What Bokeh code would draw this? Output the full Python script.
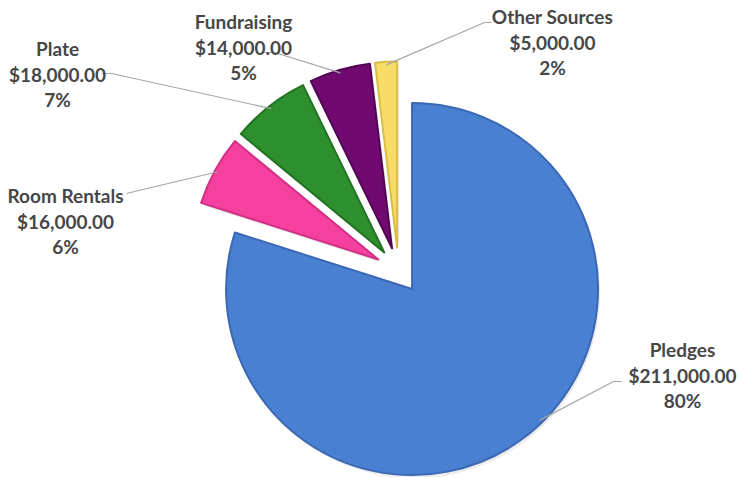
import math
from bokeh.plotting import figure
from bokeh.models import Range1d
from bokeh.core.properties import value
from bokeh.embed import file_html
from bokeh.resources import INLINE

# ---- data ----
categories = ["Pledges", "Room Rentals", "Plate", "Fundraising", "Other Sources"]
amounts = [211000, 16000, 18000, 14000, 5000]

# ---- styles / layout ----
fill_colors = ["#4a80d2", "#f5409f", "#2d8f2d", "#700a70", "#f7dd68"]
edge_colors = ["#3a68b4", "#d22f85", "#217421", "#520552", "#d8bd48"]
# label centres in reference-pixel coords (x, y of first line)
label_pos = [(682, 349), (65, 195), (57, 48), (243, 21), (552, 16)]
# leader-line stub on the label side (start, knee) in reference-pixel coords
leader_stub = [((621, 381), (613, 381)), ((126, 193), (138, 190)),
               ((101, 73), (111, 73)), ((264, 52), (274, 52)),
               ((491, 22), (484, 22))]
CX, CY = 398, 270      # pie centre (reference pixels, y down)
R = 186                # radius
EXPLODE = 23           # explosion offset
W, H = 739, 477
LINE_GAP = 25.5
TEXT_COLOR = "#474747"

def fy(ys):
    """reference pixel y (down) -> data y (up)"""
    return 477 - ys

p = figure(width=W, height=H, x_range=Range1d(0, W), y_range=Range1d(477 - H, 477),
           output_backend="svg", toolbar_location=None, min_border=0)
p.axis.visible = False
p.grid.visible = False
p.outline_line_color = None
p.background_fill_color = "white"

total = float(sum(amounts))
cum = 0.0
for i, (cat, amt) in enumerate(zip(categories, amounts)):
    frac = amt / total
    a0 = cum * 2 * math.pi            # clockwise from 12 o'clock
    a1 = (cum + frac) * 2 * math.pi
    cum += frac
    mid = (a0 + a1) / 2
    vx = CX + EXPLODE * math.sin(mid)
    vy = fy(CY) + EXPLODE * math.cos(mid)
    # soft shadow
    p.wedge(x=[vx + 2], y=[vy - 3], radius=R, start_angle=math.pi / 2 - a0,
            end_angle=math.pi / 2 - a1, direction="clock",
            fill_color="#000000", fill_alpha=0.08, line_color=None)
    p.wedge(x=[vx], y=[vy], radius=R, start_angle=math.pi / 2 - a0,
            end_angle=math.pi / 2 - a1, direction="clock",
            fill_color=fill_colors[i], line_color=edge_colors[i], line_width=2,
            line_join="round")
    # leader line
    ang = mid if i else mid - 0.14
    ex = vx + (R - 3) * math.sin(ang)
    ey = vy + (R - 3) * math.cos(ang)
    (sx, sy), (kx, ky) = leader_stub[i]
    p.line(x=[sx, kx, ex], y=[fy(sy), fy(ky), ey], line_color="#a6a6a6", line_width=1.2)
    # labels
    lx, ly = label_pos[i]
    lines = [cat, "${:,.2f}".format(amt), "{}%".format(round(frac * 100))]
    for k, t in enumerate(lines):
        p.text(x=[lx], y=[fy(ly + k * LINE_GAP)], text=[t], text_align="center",
               text_baseline="middle", text_font=value("Lato"), text_font_style="bold",
               text_font_size="19px", text_color=TEXT_COLOR)

open("out.html", "w").write(file_html(p, INLINE))
